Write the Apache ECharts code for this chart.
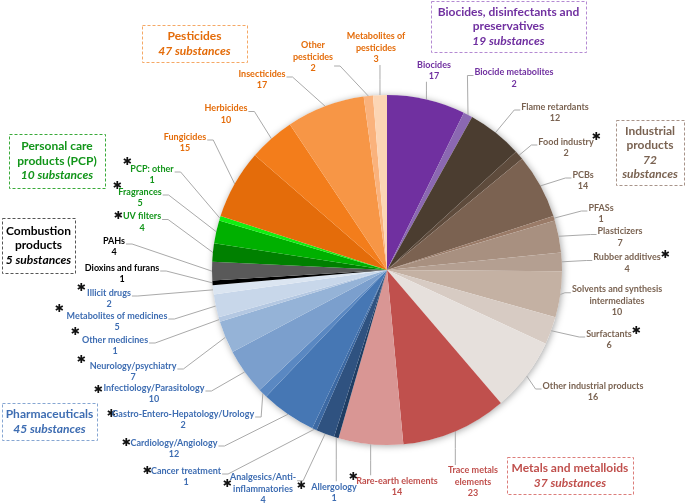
<!DOCTYPE html>
<html>
<head>
<meta charset="utf-8">
<script src="https://cdn.jsdelivr.net/npm/echarts@6/dist/echarts.min.js"></script>
<style>html,body{margin:0;padding:0;background:#fff;}#c{width:685px;height:503px;}</style>
</head>
<body>
<div id="c"></div>
<script>
// ---------- DATA ----------
const biocideNames = ['Biocides', 'Biocide metabolites'];
const biocideValues = [17, 2];
const industrialNames = ['Flame retardants', 'Food industry', 'PCBs', 'PFASs', 'Plasticizers', 'Rubber additives', 'Solvents and synthesis\nintermediates', 'Surfactants', 'Other industrial products'];
const industrialValues = [12, 2, 14, 1, 7, 4, 10, 6, 16];
const metalNames = ['Trace metals\nelements', 'Rare-earth elements'];
const metalValues = [23, 14];
const pharmaNames = ['Allergology', 'Analgesics/Anti-\ninflammatories', 'Cancer treatment', 'Cardiology/Angiology', 'Gastro-Entero-Hepatology/Urology', 'Infectiology/Parasitology', 'Neurology/psychiatry', 'Other medicines', 'Metabolites of medicines', 'Illicit drugs'];
const pharmaValues = [1, 4, 1, 12, 2, 10, 7, 1, 5, 2];
const combustionNames = ['Dioxins and furans', 'PAHs'];
const combustionValues = [1, 4];
const pcpNames = ['UV filters', 'Fragrances', 'PCP: other'];
const pcpValues = [4, 5, 1];
const pesticideNames = ['Fungicides', 'Herbicides', 'Insecticides', 'Other\npesticides', 'Metabolites of\npesticides'];
const pesticideValues = [15, 10, 17, 2, 3];

// ---------- STYLES ----------
const groups = [
  {names: biocideNames, values: biocideValues, text: '#7030a0', colors: ['#7030a0', '#8b68b2']},
  {names: industrialNames, values: industrialValues, text: '#7a6352', colors: ['#4b3d30', '#5e4b3c', '#7b6251', '#9a7b68', '#a89080', '#b49f91', '#c4b1a3', '#d7cbc3', '#e6e0dc']},
  {names: metalNames, values: metalValues, text: '#c0504d', colors: ['#c0504d', '#d99694']},
  {names: pharmaNames, values: pharmaValues, text: '#3e6db2', colors: ['#1f3d63', '#2f5280', '#3c69a3', '#4677b4', '#5a88c2', '#7b9fcd', '#95b3d7', '#b4c8e2', '#c8d7ea', '#dbe5f1']},
  {names: combustionNames, values: combustionValues, text: '#000000', colors: ['#000000', '#595959']},
  {names: pcpNames, values: pcpValues, text: '#12951a', colors: ['#008000', '#00b000', '#10f010']},
  {names: pesticideNames, values: pesticideValues, text: '#e46c0a', colors: ['#e46c0a', '#f37d1b', '#f79646', '#fab27c', '#fcd5b4']}
];
const sum = a => a.reduce((s, v) => s + v, 0);

// label layout: [centerX, centerY, side, anchorY?]
const labelPos = [
  [434, 70.5, 'b'], [514, 78, 'l'],
  [555, 112.5, 'l'], [566, 147.5, 'l'], [583, 180.5, 'l'], [601, 213.5, 'l'], [620, 237, 'l'], [627, 263, 'l'], [617, 301, 'l'], [609, 339.5, 'l'], [593, 391.5, 'l'],
  [473, 482, 't'], [397, 486.5, 't'],
  [334, 492.5, 't'], [263, 489, 'r'], [186, 476.5, 'r'], [174, 448.5, 'r'], [183, 419.5, 'r'], [154, 393.5, 'r'], [133, 371.5, 'r'], [115, 345.5, 'r'], [117, 321.5, 'r'], [109, 298.5, 'r'],
  [122, 273.5, 'r'], [114, 246.5, 'r'],
  [142, 222, 'r'], [140, 197.5, 'r'], [152, 174.5, 'r'],
  [185, 142.5, 'r'], [226, 114, 'r'], [262, 79.5, 'r'], [313, 57, 'r', 66], [376, 48, 'b']
];
const asterisks = [[127,162],[117,186],[118,216],[81,288],[59,309],[75,332],[81,360],[98,390],[111,414],[126,443],[147,471],[227,484],[301,486],[353,477],[596,137],[665,255],[636,331]];

const FONT = 'Lato';
const LH = 11.5;

const data = [];
groups.forEach(g => {
  g.names.forEach((n, i) => {
    data.push({
      name: n, value: g.values[i],
      itemStyle: {color: g.colors[i]},
      label: {color: g.text}
    });
  });
});
const total = sum(data.map(d => d.value));

// ---------- BOXES ----------
const boxes = [
  {x: 142, y: 25, w: 105, h: 37, stroke: '#f5a865', color: '#e46c0a', lines: [['Pesticides', 0], [sum(pesticideValues) + ' substances', 1]]},
  {x: 431, y: 1, w: 155, h: 51, stroke: '#b48ad2', color: '#7030a0', lines: [['Biocides, disinfectants and', 0], ['preservatives', 0], [sum(biocideValues) + ' substances', 1]]},
  {x: 616, y: 120, w: 68, h: 65, stroke: '#a8948a', color: '#7a6352', lines: [['Industrial', 0], ['products', 0], [String(sum(industrialValues)), 1], ['substances', 1]]},
  {x: 507, y: 457, w: 126, h: 37, stroke: '#dc7d7a', color: '#c0504d', lines: [['Metals and metalloids', 0], [sum(metalValues) + ' substances', 1]]},
  {x: 2, y: 403, w: 95, h: 37, stroke: '#86a6d2', color: '#3e6db2', lines: [['Pharmaceuticals', 0], [sum(pharmaValues) + ' substances', 1]]},
  {x: 9, y: 134, w: 96, h: 54, stroke: '#3aaa3a', color: '#12951a', lines: [['Personal care', 0], ['products (PCP)', 0], [sum(pcpValues) + ' substances', 1]]},
  {x: 2, y: 218, w: 73, h: 55, stroke: '#555555', color: '#000000', lines: [['Combustion', 0], ['products', 0], [sum(combustionValues) + ' substances', 1]]}
];
const graphics = [];
boxes.forEach(b => {
  graphics.push({type: 'rect', shape: {x: b.x + 0.5, y: b.y + 0.5, width: b.w, height: b.h}, style: {fill: 'none', stroke: b.stroke, lineWidth: 1, lineDash: [3, 2]}, silent: true});
  const lh = 14.5;
  const y0 = b.y + b.h / 2 - (b.lines.length - 1) * lh / 2;
  b.lines.forEach((l, i) => {
    graphics.push({type: 'text', x: b.x + b.w / 2, y: y0 + i * lh, style: {text: l[0], align: 'center', verticalAlign: 'middle', fill: b.color, fontFamily: FONT, fontSize: 12, fontWeight: 'bold', fontStyle: l[1] ? 'italic' : 'normal'}, silent: true});
  });
});
asterisks.forEach(a => {
  graphics.push({type: 'text', x: a[0], y: a[1], style: {text: '\u2731', align: 'center', verticalAlign: 'middle', fill: '#111', fontFamily: 'DejaVu Sans', fontSize: 11}, silent: true});
});

const chart = echarts.init(document.getElementById('c'), null, {renderer: 'canvas'});
chart.setOption({
  animation: false,
  backgroundColor: '#ffffff',
  graphic: graphics,
  series: [
    {
      type: 'pie', center: [387, 270], radius: 175, silent: true, z: 1,
      label: {show: false}, labelLine: {show: false},
      itemStyle: {color: '#ffffff', shadowBlur: 7, shadowColor: 'rgba(0,0,0,0.35)', shadowOffsetX: 1, shadowOffsetY: 1},
      data: [{value: total, name: 'all'}]
    },
    {
      type: 'pie', center: [387, 270], radius: 175, startAngle: 90, clockwise: true, z: 2,
      avoidLabelOverlap: false, silent: true,
      itemStyle: {borderWidth: 0},
      emphasis: {disabled: true},
      label: {
        show: true, position: 'outside',
        formatter: p => p.name.split('\n').map(s => '{n|' + s + '}').join('\n') + '\n{n|' + p.value + '}',
        rich: {n: {fontFamily: FONT, fontSize: 9, fontWeight: 'bold', lineHeight: LH, align: 'center'}}
      },
      labelLine: {show: true, length: 10, length2: 10, smooth: false, lineStyle: {color: '#aaaaaa', width: 1}},
      labelLayout: function (p) {
        const L = labelPos[p.dataIndex];
        const w = p.labelRect.width, h = p.labelRect.height;
        const cx = L[0], cy = L[1], side = L[2];
        const top = cy - h / 2, bottom = cy + h / 2;
        const p0 = p.labelLinePoints ? p.labelLinePoints[0] : [cx, cy];
        let p1, p2;
        if (side === 'r') {
          const y = L[3] != null ? L[3] : top + LH / 2 + 2;
          p2 = [cx + w / 2 + 1, y]; p1 = [p2[0] + 6, y];
        } else if (side === 'l') {
          const y = L[3] != null ? L[3] : top + LH / 2 + 2;
          p2 = [cx - w / 2 - 1, y]; p1 = [p2[0] - 6, y];
        } else if (side === 't') {
          p2 = [p0[0], top - 1]; p1 = [p0[0], (p0[1] + top) / 2];
        } else {
          p2 = [p0[0], bottom + 1]; p1 = [p0[0], (p0[1] + bottom) / 2];
        }
        return {x: cx, y: cy, align: 'center', verticalAlign: 'middle', labelLinePoints: [p0, p1, p2]};
      },
      data: data
    }
  ]
});
</script>
</body>
</html>
